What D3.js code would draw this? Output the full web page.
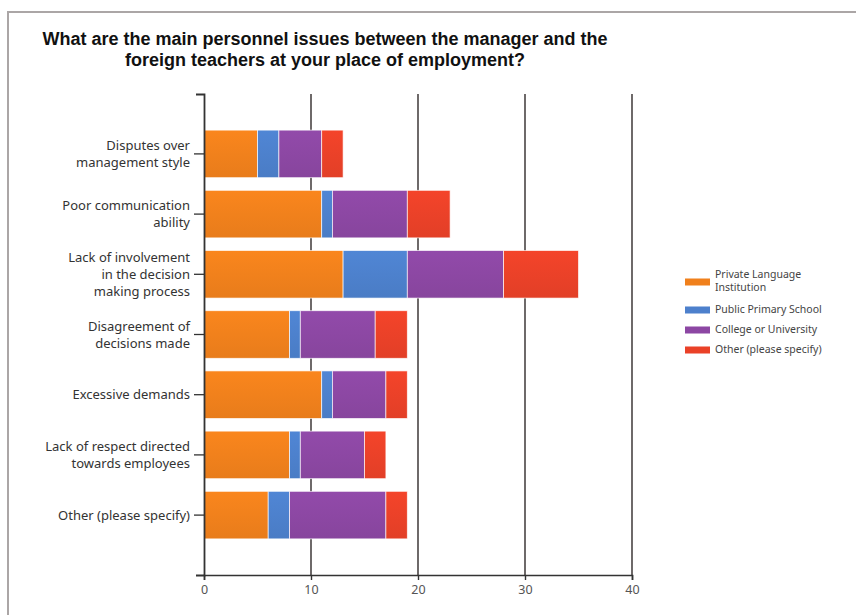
<!DOCTYPE html>
<html>
<head>
<meta charset="utf-8">
<script src="https://cdn.jsdelivr.net/npm/d3@7"></script>
<style>
  html, body { margin: 0; padding: 0; background: #fff; }
  svg { display: block; }
</style>
</head>
<body>
<svg id="chart" width="856" height="615"></svg>
<script>
// Survey responses: number of respondents per issue, split by workplace type
const categories = [
  ["Disputes over", "management style"],
  ["Poor communication", "ability"],
  ["Lack of involvement", "in the decision", "making process"],
  ["Disagreement of", "decisions made"],
  ["Excessive demands"],
  ["Lack of respect directed", "towards employees"],
  ["Other (please specify)"]
];
const seriesNames = [
  ["Private Language", "Institution"],
  ["Public Primary School"],
  ["College or University"],
  ["Other (please specify)"]
];
const privateLanguage = [5, 11, 13, 8, 11, 8, 6];
const publicPrimary   = [2, 1, 6, 1, 1, 1, 2];
const college         = [4, 7, 9, 7, 5, 6, 9];
const otherWork       = [2, 4, 7, 3, 2, 2, 2];
const xTicks = [0, 10, 20, 30, 40];
const colors = ["#f0801c", "#4d80cc", "#8c47a3", "#ea4128"];
const titleLines = [
  "What are the main personnel issues between the manager and the",
  "foreign teachers at your place of employment?"
];

const svg = d3.select("#chart");

// frame
svg.append("line").attr("x1", 8).attr("x2", 8).attr("y1", 12).attr("y2", 615)
  .attr("stroke", "#aba6a6").attr("stroke-width", 2);
svg.append("line").attr("x1", 7).attr("x2", 856).attr("y1", 12).attr("y2", 12)
  .attr("stroke", "#aba6a6").attr("stroke-width", 2);

// title
const title = svg.append("text")
  .attr("font-family", "Liberation Sans, Arial, sans-serif")
  .attr("font-weight", "bold").attr("font-size", 18)
  .attr("fill", "#111").attr("text-anchor", "middle");
titleLines.forEach((t, i) => {
  title.append("tspan").attr("x", 325).attr("y", 45 + i * 21).text(t);
});

const x0 = 204, x1 = 632, yTop = 94, yBot = 575;
const x = d3.scaleLinear().domain([0, 40]).range([x0, x1]);
const y = d3.scaleBand().domain(d3.range(categories.length)).range([yTop, yBot])
  .paddingInner(0.21).paddingOuter(0.6);

// gradients for a soft shaded look on bars
const defs = svg.append("defs");
colors.forEach((c, i) => {
  const g = defs.append("linearGradient").attr("id", "g" + i)
    .attr("x1", 0).attr("x2", 0).attr("y1", 0).attr("y2", 1);
  g.append("stop").attr("offset", 0).attr("stop-color", d3.color(c).brighter(0.12));
  g.append("stop").attr("offset", 1).attr("stop-color", d3.color(c).darker(0.1));
});

// grid lines
svg.append("g").selectAll("line").data(xTicks.slice(1)).join("line")
  .attr("x1", d => x(d)).attr("x2", d => x(d))
  .attr("y1", yTop).attr("y2", yBot)
  .attr("stroke", "#4a4444").attr("stroke-width", 1.6);

// stacked bars
const rows = categories.map((c, i) => ({
  i, s0: privateLanguage[i], s1: publicPrimary[i], s2: college[i], s3: otherWork[i]
}));
const stack = d3.stack().keys(["s0", "s1", "s2", "s3"])(rows);
svg.append("g").selectAll("g").data(stack).join("g")
  .attr("fill", (d, k) => `url(#g${k})`)
  .selectAll("rect").data(d => d).join("rect")
  .attr("x", d => x(d[0]))
  .attr("y", d => y(d.data.i))
  .attr("width", d => x(d[1]) - x(d[0]))
  .attr("height", y.bandwidth())
  .attr("stroke", "#fff").attr("stroke-width", 0.8).attr("stroke-opacity", 0.8);

// x axis
const xAxis = svg.append("g").attr("transform", `translate(0,${yBot})`)
  .call(d3.axisBottom(x).tickValues(xTicks).tickSize(5).tickSizeOuter(5).tickPadding(5));
xAxis.select(".domain").attr("stroke", "#333").attr("stroke-width", 1.6);
xAxis.selectAll(".tick line").attr("stroke", "#333").attr("stroke-width", 1.4);
xAxis.selectAll("text").attr("font-family", "Noto Sans, sans-serif").attr("font-size", 12.5)
  .attr("fill", "#555");

// y axis
const yAxis = svg.append("g").attr("transform", `translate(${x0},0)`)
  .call(d3.axisLeft(y).tickSize(10).tickSizeOuter(8).tickFormat(""));
yAxis.select(".domain").attr("stroke", "#333").attr("stroke-width", 1.8);
yAxis.selectAll(".tick line").attr("stroke", "#333").attr("stroke-width", 1.3);

// category labels
const lineH = 17;
svg.append("g").selectAll("text").data(categories).join("text")
  .attr("font-family", "Noto Sans, sans-serif").attr("font-size", 13)
  .attr("fill", "#333").attr("text-anchor", "end")
  .each(function (lines, i) {
    const cy = y(i) + y.bandwidth() / 2;
    const start = cy - (lines.length - 1) * lineH / 2 + 4.5;
    d3.select(this).selectAll("tspan").data(lines).join("tspan")
      .attr("x", 190).attr("y", (d, j) => start + j * lineH).text(d => d);
  });

// legend
const legendY = [282, 310, 330, 350];
const legendLineH = 13;
const legend = svg.append("g");
seriesNames.forEach((lines, k) => {
  legend.append("rect").attr("x", 685).attr("y", legendY[k] - 3.5)
    .attr("width", 25).attr("height", 7).attr("fill", colors[k]);
  const t = legend.append("text").attr("font-family", "Noto Sans, sans-serif")
    .attr("font-size", 10.5).attr("fill", "#444");
  const off = -(lines.length - 1) * legendLineH / 2 - 1;
  lines.forEach((l, j) => {
    t.append("tspan").attr("x", 715).attr("y", legendY[k] + off + j * legendLineH + 3.5).text(l);
  });
});
</script>
</body>
</html>
